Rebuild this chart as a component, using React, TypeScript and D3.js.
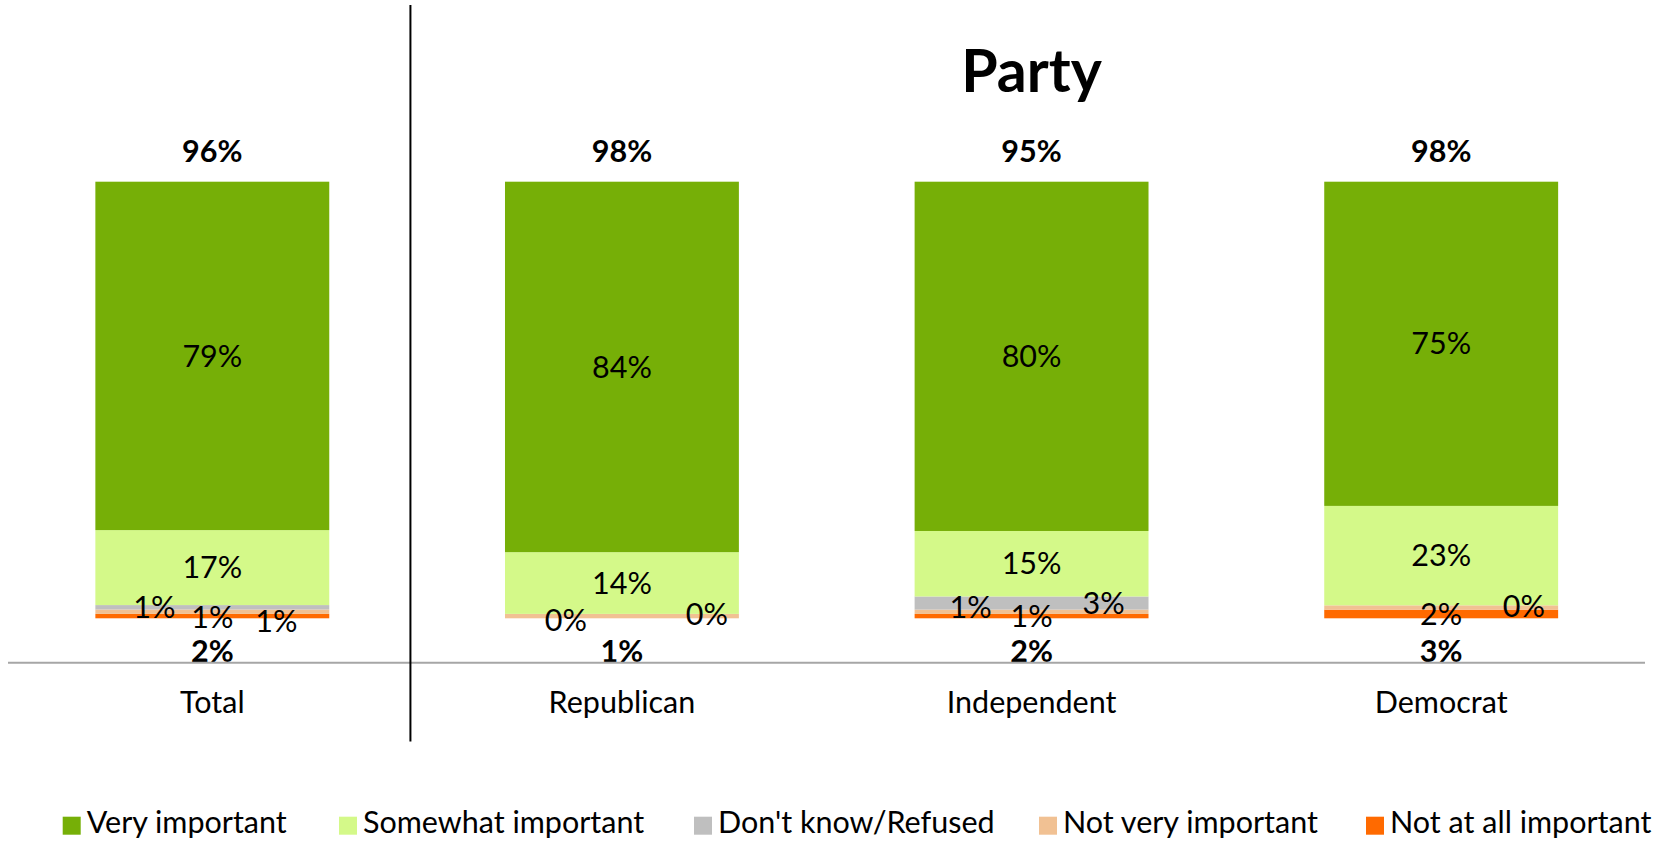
import React from "react";
import * as d3 from "d3";

const categories = ["Total", "Republican", "Independent", "Democrat"];
const veryImportant = [79, 84, 80, 75];
const somewhatImportant = [17, 14, 15, 23];
const dontKnow = [1, 0, 3, 0];
const notVeryImportant = [1, 1, 1, 1];
const notAtAllImportant = [1, 0, 1, 2];

const seriesNames = ["Very important", "Somewhat important", "Don't know/Refused", "Not very important", "Not at all important"];
const seriesKeys = ["very", "somewhat", "dontKnow", "notVery", "notAtAll"];
const colors: Record<string, string> = {
  very: "#76AF07",
  somewhat: "#D4F989",
  dontKnow: "#BFBFBF",
  notVery: "#F1C193",
  notAtAll: "#FF6A00",
};

// which small-segment labels are shown, with offsets (px) from bar centre / segment middle
const smallLabelOffsets: Record<string, Record<string, [number, number]>> = {
  Total: { dontKnow: [-58, 0], notVery: [0, 6], notAtAll: [64, 5] },
  Republican: { dontKnow: [-56, 6], notAtAll: [85, -3.6] },
  Independent: { dontKnow: [72, 0], notVery: [-61, -4], notAtAll: [0, 0.6] },
  Democrat: { notAtAll: [0, 0.7], dontKnow: [82.7, 1.4] },
};

const legendX = [62.7, 339, 694, 1039, 1366];

const W = 1661;
const H = 842;
const FONT = "Lato, 'Open Sans', sans-serif";
const FS = 30.5;

export default function App() {
  const rows = categories.map((c, i) => ({
    cat: c,
    very: veryImportant[i],
    somewhat: somewhatImportant[i],
    dontKnow: dontKnow[i],
    notVery: notVeryImportant[i],
    notAtAll: notAtAllImportant[i],
  }));

  const stackKeys = ["notAtAll", "notVery", "dontKnow", "somewhat", "very"];
  const stacked = d3.stack<any>().keys(stackKeys).offset(d3.stackOffsetExpand)(rows);

  const x = d3.scaleBand().domain(categories).range([7.5, 1646]).paddingInner(0.429).paddingOuter(0.2145);
  const y = d3.scaleLinear().domain([0, 1]).range([618.3, 181.7]);
  const bw = x.bandwidth();
  const cx = (c: string) => (x(c) as number) + bw / 2;

  const baseOff = FS * 0.35;

  const dividerX = ((x("Total") as number) + bw + (x("Republican") as number)) / 2 - 6.7;
  const partyCenter = (cx("Republican") + cx("Democrat")) / 2;

  return (
    <div style={{ position: "absolute", left: 0, top: 0 }}>
      <svg width={W} height={H} style={{ display: "block", fontFamily: FONT }}>
        <rect x={0} y={0} width={W} height={H} fill="#fff" />
        {stacked.map((s) => (
          <g key={s.key} fill={colors[s.key]}>
            {s.map((d, i) => (
              <rect
                key={i}
                x={x(categories[i]) as number}
                y={y(d[1])}
                width={bw}
                height={Math.max(0, y(d[0]) - y(d[1]))}
              />
            ))}
          </g>
        ))}
        {/* big segment labels */}
        {stacked
          .filter((s) => s.key === "very" || s.key === "somewhat")
          .map((s) =>
            s.map((d, i) => (
              <text
                key={s.key + i}
                x={cx(categories[i])}
                y={(y(d[0]) + y(d[1])) / 2 + baseOff}
                textAnchor="middle"
                fontSize={FS}
                fill="#000"
              >
                {(d.data as any)[s.key]}%
              </text>
            ))
          )}
        {/* small segment labels */}
        {stacked
          .filter((s) => ["dontKnow", "notVery", "notAtAll"].includes(s.key))
          .map((s) =>
            s.map((d, i) => {
              const off = smallLabelOffsets[categories[i]][s.key];
              if (!off) return null;
              return (
                <text
                  key={s.key + i}
                  x={cx(categories[i]) + off[0]}
                  y={(y(d[0]) + y(d[1])) / 2 + off[1] + baseOff}
                  textAnchor="middle"
                  fontSize={FS}
                  fill="#000"
                >
                  {(d.data as any)[s.key]}%
                </text>
              );
            })
          )}
        {/* totals */}
        {categories.map((c, i) => (
          <text key={"top" + c} x={cx(c)} y={151.7 + baseOff} textAnchor="middle" fontSize={FS} fontWeight="bold">
            {veryImportant[i] + somewhatImportant[i]}%
          </text>
        ))}
        {categories.map((c, i) => (
          <text key={"bot" + c} x={cx(c)} y={651 + baseOff} textAnchor="middle" fontSize={FS} fontWeight="bold">
            {notVeryImportant[i] + notAtAllImportant[i]}%
          </text>
        ))}
        {/* axis line */}
        <line x1={8} x2={1645} y1={662.7} y2={662.7} stroke="#A6A6A6" strokeWidth={2} />
        {categories.map((c) => (
          <text key={"cat" + c} x={cx(c)} y={712.7} textAnchor="middle" fontSize={FS} fill="#000">
            {c}
          </text>
        ))}
        {/* divider */}
        <line x1={dividerX} x2={dividerX} y1={5} y2={741.5} stroke="#000" strokeWidth={2} />
        {/* title */}
        <text x={partyCenter} y={92.3} textAnchor="middle" fontSize={59} fontWeight="bold">
          Party
        </text>
        {/* legend */}
        {seriesKeys.map((k, i) => (
          <g key={"lg" + k}>
            <rect x={legendX[i]} y={816.7} width={18} height={18} fill={colors[k]} />
            <text x={legendX[i] + 24} y={833.3} fontSize={FS} fill="#000">
              {seriesNames[i]}
            </text>
          </g>
        ))}
      </svg>
    </div>
  );
}
